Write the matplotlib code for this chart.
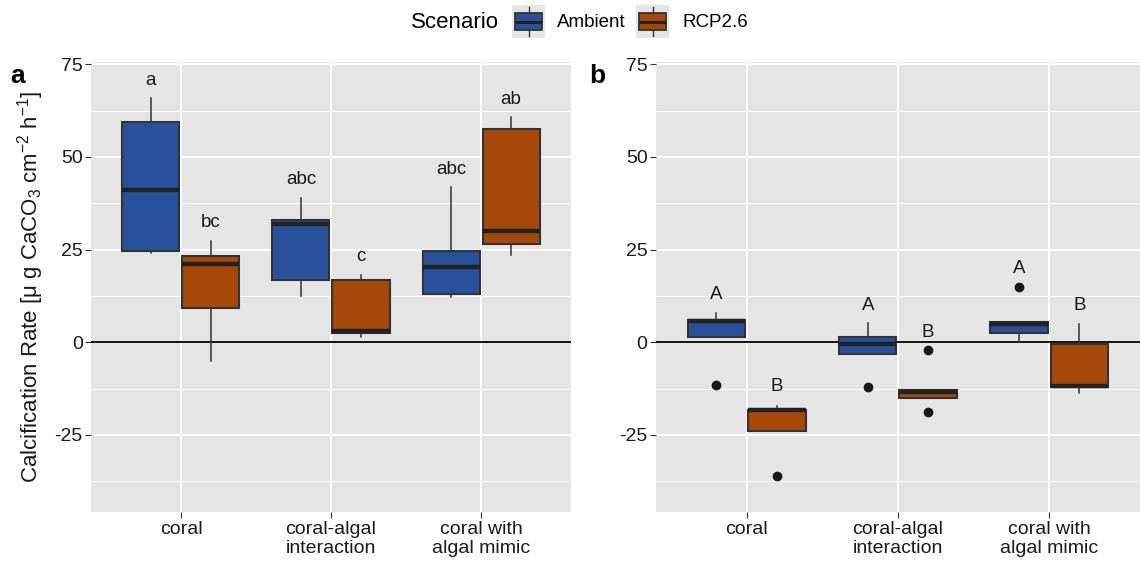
import numpy as np
import matplotlib.pyplot as plt

plt.rcParams['font.family'] = ['Liberation Sans', 'DejaVu Sans']
plt.rcParams['axes.unicode_minus'] = False

categories = ["coral", "coral-algal\ninteraction", "coral with\nalgal mimic"]
scenarios = ["Ambient", "RCP2.6"]
colors = ["#27529B", "#A6480A"]

# panel a (box stats per category)
a_amb_whislo = [24.2, 12.6, 12.2]
a_amb_q1 = [24.7, 16.7, 13.0]
a_amb_med = [41.0, 31.9, 20.2]
a_amb_q3 = [59.4, 33.1, 24.7]
a_amb_whishi = [65.9, 38.9, 41.8]
a_amb_fliers = [[], [], []]

a_rcp_whislo = [-5.0, 1.4, 23.4]
a_rcp_q1 = [9.2, 2.6, 26.6]
a_rcp_med = [21.0, 3.1, 29.9]
a_rcp_q3 = [23.2, 16.7, 57.6]
a_rcp_whishi = [27.4, 18.2, 60.8]
a_rcp_fliers = [[], [], []]

# panel b
b_amb_whislo = [1.3, -3.1, 0.0]
b_amb_q1 = [1.3, -3.1, 2.6]
b_amb_med = [5.6, -0.5, 5.0]
b_amb_q3 = [6.0, 1.5, 5.5]
b_amb_whishi = [7.8, 5.1, 5.5]
b_amb_fliers = [[-11.6], [-12.1], [14.9]]

b_rcp_whislo = [-23.8, -14.9, -13.7]
b_rcp_q1 = [-23.8, -14.9, -12.1]
b_rcp_med = [-18.4, -13.4, -11.7]
b_rcp_q3 = [-18.2, -13.0, -0.5]
b_rcp_whishi = [-17.2, -13.0, 4.9]
b_rcp_fliers = [[-36.1], [-2.1, -18.9], []]

# significance letters
a_amb_letters = ["a", "abc", "abc"]
a_amb_letter_y = [70.7, 43.8, 46.7]
a_rcp_letters = ["bc", "c", "ab"]
a_rcp_letter_y = [32.3, 23.0, 65.6]
b_amb_letters = ["A", "A", "A"]
b_amb_letter_y = [12.9, 9.9, 19.8]
b_rcp_letters = ["B", "B", "B"]
b_rcp_letter_y = [-12.0, 2.6, 9.9]


def make_stats(lo, q1, med, q3, hi, fl):
    return [dict(whislo=lo[i], q1=q1[i], med=med[i], q3=q3[i], whishi=hi[i],
                 fliers=fl[i]) for i in range(len(lo))]


edge = "#333333"


def draw_boxes(ax, stats, pos, color):
    ax.bxp(stats, positions=pos, widths=0.38, patch_artist=True, showcaps=False,
           boxprops=dict(facecolor=color, edgecolor=edge, linewidth=1.5),
           medianprops=dict(color="#222222", linewidth=3.2),
           whiskerprops=dict(color=edge, linewidth=1.1),
           flierprops=dict(marker="o", markerfacecolor="#1a1a1a",
                           markeredgecolor="#1a1a1a", markersize=6),
           manage_ticks=False, zorder=3)


def style_axes(ax):
    ax.set_facecolor("#E5E5E5")
    ax.set_xlim(0.4, 3.6)
    ax.set_ylim(-45.7, 75.5)
    ax.set_yticks([-25, 0, 25, 50, 75])
    ax.set_yticks([-37.5, -12.5, 12.5, 37.5, 62.5], minor=True)
    ax.set_xticks([1, 2, 3])
    ax.set_xticklabels(categories, fontsize=14, color="#1a1a1a", linespacing=1.15)
    ax.tick_params(axis="y", which="major", labelsize=14, length=4,
                   color="#333333", labelcolor="#1a1a1a", pad=2)
    ax.tick_params(axis="x", length=4, color="#333333", pad=3)
    ax.tick_params(which="minor", length=0)
    ax.grid(True, which="major", color="white", linewidth=1.3, zorder=0)
    ax.grid(True, which="minor", axis="y", color="white", linewidth=0.6, zorder=0)
    ax.set_axisbelow(True)
    for s in ax.spines.values():
        s.set_visible(False)
    ax.axhline(0, color="black", linewidth=1.3, zorder=2)


fig = plt.figure(figsize=(11.4, 5.67), dpi=100)
ax_a = fig.add_axes([0.0798, 0.0975, 0.4211, 0.7926])
ax_b = fig.add_axes([0.5754, 0.0975, 0.4246, 0.7926])

x = np.arange(1, 4)
off = 0.2

panels = [
    (ax_a,
     make_stats(a_amb_whislo, a_amb_q1, a_amb_med, a_amb_q3, a_amb_whishi, a_amb_fliers),
     make_stats(a_rcp_whislo, a_rcp_q1, a_rcp_med, a_rcp_q3, a_rcp_whishi, a_rcp_fliers),
     a_amb_letters, a_amb_letter_y, a_rcp_letters, a_rcp_letter_y),
    (ax_b,
     make_stats(b_amb_whislo, b_amb_q1, b_amb_med, b_amb_q3, b_amb_whishi, b_amb_fliers),
     make_stats(b_rcp_whislo, b_rcp_q1, b_rcp_med, b_rcp_q3, b_rcp_whishi, b_rcp_fliers),
     b_amb_letters, b_amb_letter_y, b_rcp_letters, b_rcp_letter_y),
]

for ax, amb, rcp, al, ay, rl, ry in panels:
    style_axes(ax)
    draw_boxes(ax, amb, x - off, colors[0])
    draw_boxes(ax, rcp, x + off, colors[1])
    for i in range(3):
        ax.text(x[i] - off, ay[i], al[i], ha="center", va="center", fontsize=13.5,
                color="#1a1a1a")
        ax.text(x[i] + off, ry[i], rl[i], ha="center", va="center", fontsize=13.5,
                color="#1a1a1a")

fig.text(0.009, 0.866, "a", fontsize=19, fontweight="bold", va="center")
fig.text(0.517, 0.866, "b", fontsize=19, fontweight="bold", va="center")

ax_a.set_ylabel(r"Calcification Rate [$\mathregular{\mu}$ g CaCO$_\mathregular{3}$ cm$^\mathregular{-2}$ h$^\mathregular{-1}$]",
                fontsize=16, color="#1a1a1a", labelpad=6)

# legend
fig.text(0.399, 0.961, "Scenario", fontsize=16, ha="center", va="center")
key_x = [512 / 1140, 636 / 1140]
label_x = [557 / 1140, 682 / 1140]
for i, name in enumerate(scenarios):
    kax = fig.add_axes([key_x[i], 1 - 38 / 567, 33 / 1140, 33 / 567])
    kax.set_facecolor("#E5E5E5")
    kax.set_xlim(0, 1)
    kax.set_ylim(0, 1)
    kax.bxp([dict(whislo=0.05, q1=0.25, med=0.5, q3=0.75, whishi=0.95, fliers=[])],
            positions=[0.5], widths=0.8, patch_artist=True, showcaps=False,
            boxprops=dict(facecolor=colors[i], edgecolor=edge, linewidth=1.3),
            medianprops=dict(color="#222222", linewidth=2.2),
            whiskerprops=dict(color=edge, linewidth=1.0), manage_ticks=False)
    kax.set_xticks([])
    kax.set_yticks([])
    for s in kax.spines.values():
        s.set_visible(False)
    fig.text(label_x[i], 0.961, name, fontsize=13.5, ha="left", va="center")

fig.savefig("out.png", dpi=100)
